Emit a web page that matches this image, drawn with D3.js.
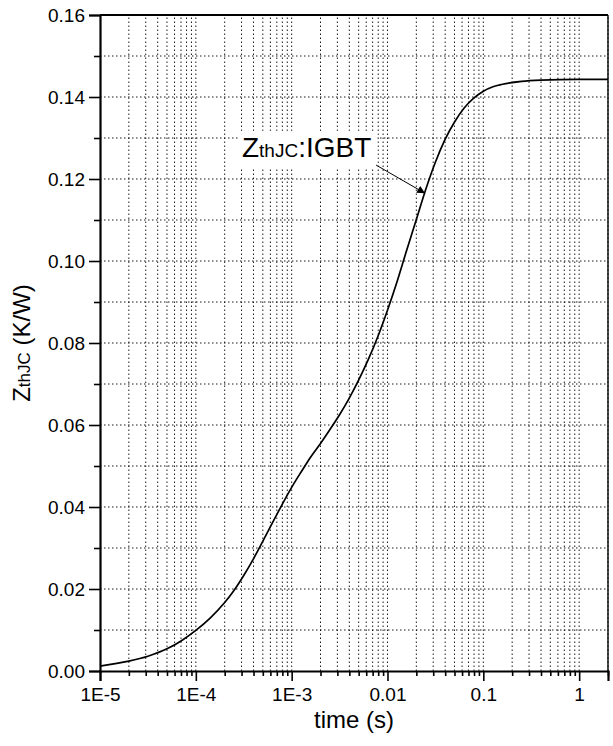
<!DOCTYPE html>
<html>
<head>
<meta charset="utf-8">
<script src="https://cdn.jsdelivr.net/npm/d3@7"></script>
<style>
  html, body { margin: 0; padding: 0; background: #fff; }
  svg { display: block; font-family: Arial, "Liberation Sans", sans-serif; }
</style>
</head>
<body>
<svg id="chart" width="613" height="746"></svg>
<script>
// ---- data ----
const timeValues = [1e-5, 2e-5, 3.16e-5, 5e-5, 7.08e-5, 1e-4, 1.41e-4, 2e-4, 2.51e-4, 3.16e-4,
  3.98e-4, 5.01e-4, 7.08e-4, 1e-3, 1.26e-3, 1.58e-3, 2e-3, 2.51e-3, 3.16e-3, 3.98e-3,
  5.01e-3, 6.31e-3, 7.94e-3, 0.01, 0.0126, 0.0158, 0.02, 0.0251, 0.0316, 0.0398,
  0.0501, 0.0631, 0.0794, 0.1, 0.126, 0.158, 0.251, 0.398, 1, 2];
const zthValues = [0.0012, 0.0024, 0.0036, 0.0054, 0.0074, 0.0099, 0.0129, 0.0167, 0.0197, 0.0233,
  0.0273, 0.0317, 0.0384, 0.0448, 0.0486, 0.0522, 0.0555, 0.0589, 0.0625, 0.0665,
  0.0710, 0.0760, 0.0816, 0.0880, 0.0950, 0.1025, 0.1101, 0.1175, 0.1241, 0.1296,
  0.1339, 0.1373, 0.1397, 0.1414, 0.1425, 0.1431, 0.1438, 0.1441, 0.1443, 0.1443];
const xTickValues = [1e-5, 1e-4, 1e-3, 0.01, 0.1, 1];
const xTickLabels = ["1E-5", "1E-4", "1E-3", "0.01", "0.1", "1"];
const yTickValues = [0, 0.02, 0.04, 0.06, 0.08, 0.10, 0.12, 0.14, 0.16];
const yTickLabels = ["0.00", "0.02", "0.04", "0.06", "0.08", "0.10", "0.12", "0.14", "0.16"];
const xDomain = [1e-5, 2];
const yDomain = [0, 0.16];
const annotationText = ["Z", "thJC", ":IGBT"];
const annotationAnchor = { textT: 3.03e-4, textZ: 0.1254, fromT: 7.6e-3, fromZ: 0.1234, toT: 0.0247, toZ: 0.1165 };

// ---- layout ----
const svg = d3.select("#chart");
const L = 100, R = 608, T = 15, B = 671;
const x = d3.scaleLog().domain(xDomain).range([L, R]);
const y = d3.scaleLinear().domain(yDomain).range([B, T]);

const xMinor = [];
for (let e = -5; e <= 0; e++) {
  for (let k = 2; k <= 9; k++) {
    const v = k * Math.pow(10, e);
    if (v <= xDomain[1] * 1.0001) xMinor.push(v);
  }
}
const yMinor = d3.range(0.01, 0.16, 0.02);

// ---- grid ----
const grid = svg.append("g").attr("stroke", "#000").attr("fill", "none");
grid.selectAll("line.xg").data(xMinor.concat(xTickValues.slice(1))).join("line")
  .attr("x1", d => x(d)).attr("x2", d => x(d)).attr("y1", B).attr("y2", T)
  .attr("stroke-width", 0.9).attr("stroke-dasharray", "1.5,2.5");
grid.selectAll("line.yg").data(yTickValues.slice(1, -1).concat(yMinor)).join("line")
  .attr("x1", L).attr("x2", R).attr("y1", d => y(d)).attr("y2", d => y(d))
  .attr("stroke-width", 0.9).attr("stroke-dasharray", "1.5,2.5");

// ---- curve ----
const pts = timeValues.map((t, i) => [t, zthValues[i]]);
const line = d3.line().x(d => x(d[0])).y(d => y(d[1])).curve(d3.curveMonotoneX);
svg.append("path").datum(pts).attr("d", line)
  .attr("fill", "none").attr("stroke", "#000").attr("stroke-width", 1.7);

// ---- frame ----
svg.append("line").attr("x1", L).attr("x2", R).attr("y1", T).attr("y2", T)
  .attr("stroke", "#000").attr("stroke-width", 1.8);
svg.append("line").attr("x1", R).attr("x2", R).attr("y1", T).attr("y2", B)
  .attr("stroke", "#000").attr("stroke-width", 1.4);

// ---- axes ----
const xAxisMajor = d3.axisBottom(x).tickValues(xTickValues).tickFormat((d, i) => xTickLabels[i])
  .tickSize(10).tickPadding(5);
const xAxisMinor = d3.axisBottom(x).tickValues(xMinor).tickFormat("").tickSize(5);
const gxm = svg.append("g").attr("transform", `translate(0,${B})`).call(xAxisMinor);
const gx = svg.append("g").attr("transform", `translate(0,${B})`).call(xAxisMajor);
const yAxisMajor = d3.axisLeft(y).tickValues(yTickValues).tickFormat((d, i) => yTickLabels[i])
  .tickSize(11).tickPadding(4);
const yAxisMinor = d3.axisLeft(y).tickValues(yMinor).tickFormat("").tickSize(6);
const gym = svg.append("g").attr("transform", `translate(${L},0)`).call(yAxisMinor);
const gy = svg.append("g").attr("transform", `translate(${L},0)`).call(yAxisMajor);
[gx, gxm, gy, gym].forEach(g => {
  g.select(".domain").attr("stroke", "#000").attr("stroke-width", 2.2);
  g.selectAll(".tick line").attr("stroke", "#000").attr("stroke-width", 1.6);
  g.selectAll("text").attr("fill", "#000").attr("font-size", 19)
    .attr("font-family", "Arial, 'Liberation Sans', sans-serif");
});
gx.selectAll("text").attr("dy", "0.8em");
gym.select(".domain").remove();
gxm.select(".domain").remove();

// ---- axis titles ----
svg.append("text").attr("x", (L + R) / 2).attr("y", 728).attr("text-anchor", "middle")
  .attr("font-size", 24).attr("fill", "#000").text("time (s)");
const yt = svg.append("text").attr("transform", `translate(30,${(T + B) / 2}) rotate(-90)`)
  .attr("text-anchor", "middle").attr("font-size", 24).attr("fill", "#000");
yt.append("tspan").text("Z");
yt.append("tspan").attr("font-size", 17).text("thJC");
yt.append("tspan").text(" (K/W)");

// ---- annotation ----
const ann = svg.append("g");
const lab = ann.append("text").attr("x", x(annotationAnchor.textT)).attr("y", y(annotationAnchor.textZ))
  .attr("font-size", 28).attr("fill", "#000");
lab.append("tspan").text(annotationText[0]);
lab.append("tspan").attr("font-size", 19).text(annotationText[1]);
lab.append("tspan").text(annotationText[2]);
const bb = lab.node().getBBox();
ann.insert("rect", "text").attr("x", bb.x - 4).attr("y", bb.y - 1)
  .attr("width", bb.width + 10).attr("height", bb.height + 6).attr("fill", "#fff");

svg.append("defs").append("marker").attr("id", "arr").attr("viewBox", "0 0 10 10")
  .attr("refX", 10).attr("refY", 5).attr("markerWidth", 14).attr("markerHeight", 8)
  .attr("markerUnits", "userSpaceOnUse").attr("orient", "auto")
  .append("path").attr("d", "M0,0 L10,5 L0,10 Z").attr("fill", "#000");
ann.append("line")
  .attr("x1", x(annotationAnchor.fromT)).attr("y1", y(annotationAnchor.fromZ))
  .attr("x2", x(annotationAnchor.toT)).attr("y2", y(annotationAnchor.toZ))
  .attr("stroke", "#000").attr("stroke-width", 1).attr("marker-end", "url(#arr)");
</script>
</body>
</html>
